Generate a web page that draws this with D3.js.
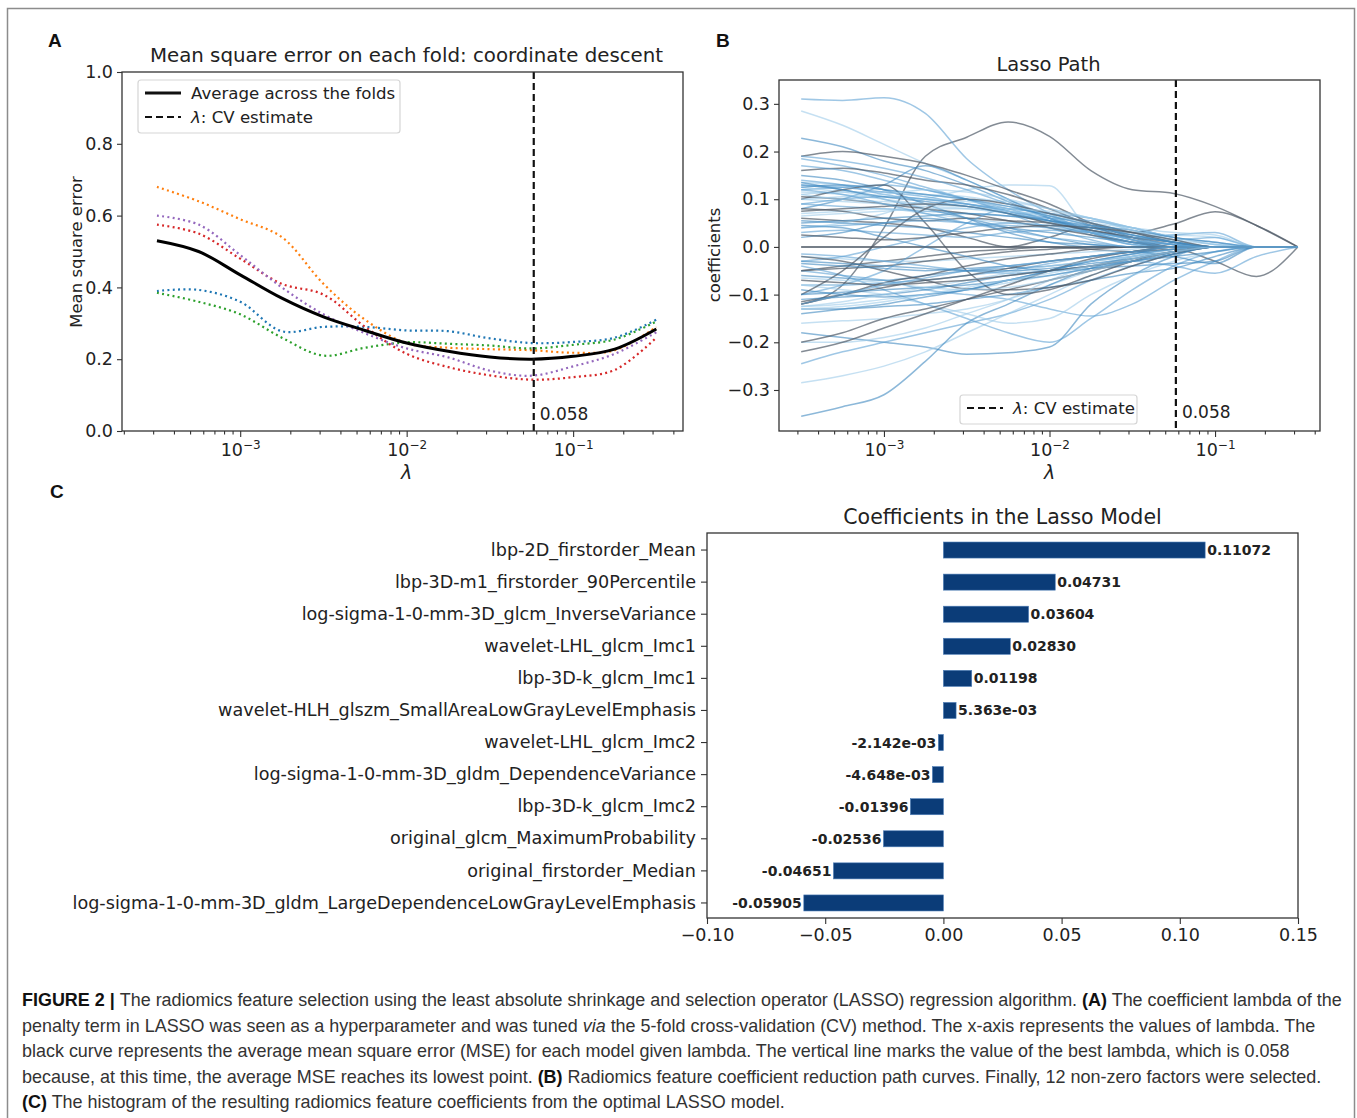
<!DOCTYPE html>
<html>
<head>
<meta charset="utf-8">
<script src="https://cdnjs.cloudflare.com/ajax/libs/d3/7.8.5/d3.min.js"></script>
<style>
body { margin: 0; background: #fff; }
svg { display: block; }
.mpl { font-family: "DejaVu Sans", sans-serif; fill: #222; }
</style>
</head>
<body>
<div id="main"></div>
<script>
// ---- data -----------------------------------------------------------
var logLambda = [-3.5, -3.25, -3.0, -2.75, -2.5, -2.25, -2.0, -1.75, -1.5, -1.25, -1.0, -0.75, -0.5];
var bestLambda = 0.058;

// MSE per CV fold (panel A)
var foldBlue   = [0.390, 0.393, 0.360, 0.278, 0.290, 0.290, 0.280, 0.278, 0.258, 0.245, 0.248, 0.260, 0.310];
var foldOrange = [0.680, 0.640, 0.590, 0.540, 0.410, 0.310, 0.245, 0.232, 0.228, 0.225, 0.218, 0.225, 0.290];
var foldGreen  = [0.385, 0.360, 0.325, 0.260, 0.210, 0.232, 0.247, 0.243, 0.238, 0.230, 0.240, 0.255, 0.305];
var foldRed    = [0.575, 0.550, 0.480, 0.410, 0.380, 0.290, 0.215, 0.178, 0.155, 0.143, 0.150, 0.170, 0.260];
var foldPurple = [0.600, 0.575, 0.490, 0.400, 0.325, 0.272, 0.230, 0.205, 0.168, 0.154, 0.180, 0.215, 0.275];
var avgMse     = [0.530, 0.500, 0.435, 0.370, 0.318, 0.280, 0.245, 0.222, 0.206, 0.200, 0.208, 0.228, 0.284];
var mseTicks = [0.0, 0.2, 0.4, 0.6, 0.8, 1.0];

// coefficient paths (panel B), one row per feature
var pathCoefs = [
  [-0.12, -0.08, 0.04, 0.19, 0.23, 0.262, 0.232, 0.16, 0.12, 0.112, 0.085, 0.045, 0],
  [0.31, 0.307, 0.313, 0.28, 0.185, 0.12, 0.07, 0.03, 0.005, 0, 0, 0, 0],
  [0.285, 0.255, 0.215, 0.175, 0.14, 0.1, 0.065, 0.03, 0.005, 0, 0, 0, 0],
  [0.228, 0.21, 0.18, 0.16, 0.13, 0.095, 0.06, 0.03, 0.01, 0, 0, 0, 0],
  [0.06, 0.055, 0.05, 0.04, 0.02, 0.0, 0.02, 0.045, 0.03, 0.048, 0.074, 0.045, 0],
  [0.185, 0.17, 0.15, 0.125, 0.1, 0.075, 0.05, 0.025, 0.005, 0, 0, 0, 0],
  [0.135, 0.13, 0.12, 0.11, 0.1, 0.095, 0.08, 0.06, 0.035, 0.01, 0, 0, 0],
  [0.13, 0.12, 0.1, 0.08, 0.06, 0.04, 0.02, 0.005, 0, 0, 0, 0, 0],
  [-0.05, -0.04, -0.03, -0.02, -0.01, -0.005, 0, -0.005, -0.01, -0.005, -0.03, -0.062, 0],
  [0.12, 0.125, 0.13, 0.12, 0.1, 0.07, 0.04, 0.015, 0, 0, 0, 0, 0],
  [0.04, 0.05, 0.07, 0.1, 0.12, 0.13, 0.128, 0.04, 0.03, 0.01, 0, 0, 0],
  [0.08, 0.1, 0.13, 0.17, 0.14, 0.1, 0.06, 0.03, 0.01, 0, 0, 0, 0],
  [0.19, 0.2, 0.19, 0.175, 0.15, 0.12, 0.09, 0.05, 0.02, 0, 0, 0, 0],
  [0.09, 0.085, 0.08, 0.075, 0.07, 0.065, 0.06, 0.055, 0.04, 0.02, 0.005, 0, 0],
  [0.07, 0.075, 0.08, 0.07, 0.06, 0.05, 0.045, 0.04, 0.03, 0.025, 0.02, 0, 0],
  [0.055, 0.05, 0.045, 0.04, 0.03, 0.02, 0.01, 0.005, 0, 0, 0, 0, 0],
  [0.16, 0.165, 0.155, 0.14, 0.13, 0.11, 0.08, 0.045, 0.015, 0, 0, 0, 0],
  [0.03, 0.035, 0.03, 0.025, 0.02, 0.03, 0.035, 0.03, 0.02, 0.015, 0.02, 0, 0],
  [-0.02, -0.025, -0.03, -0.03, -0.025, -0.02, -0.015, -0.01, -0.005, 0, 0, 0, 0],
  [-0.06, -0.065, -0.07, -0.06, -0.05, -0.045, -0.04, -0.03, -0.02, -0.01, 0, 0, 0],
  [0.105, 0.1, 0.09, 0.08, 0.07, 0.055, 0.04, 0.025, 0.01, 0, 0, 0, 0],
  [-0.08, -0.08, -0.075, -0.07, -0.06, -0.05, -0.035, -0.02, -0.01, 0, 0, 0, 0],
  [-0.125, -0.12, -0.11, -0.1, -0.09, -0.075, -0.06, -0.045, -0.03, -0.015, 0, 0, 0],
  [-0.13, -0.13, -0.125, -0.12, -0.11, -0.1, -0.085, -0.07, -0.055, -0.045, -0.02, 0, 0],
  [0.08, 0.075, 0.06, 0.055, 0.06, 0.055, 0.05, 0.035, 0.02, 0.005, 0, 0, 0],
  [-0.05, -0.06, -0.07, -0.09, -0.1, -0.11, -0.13, -0.145, -0.12, -0.07, -0.03, 0, 0],
  [-0.16, -0.155, -0.15, -0.14, -0.13, -0.11, -0.08, -0.05, -0.025, -0.01, 0, 0, 0],
  [-0.18, -0.19, -0.2, -0.21, -0.225, -0.222, -0.21, -0.12, -0.06, -0.02, 0, 0, 0],
  [0, 0, 0, 0, 0, 0, 0, 0, 0, 0, 0, 0, 0],
  [-0.245, -0.22, -0.2, -0.18, -0.16, -0.14, -0.11, -0.07, -0.04, -0.015, 0, 0, 0],
  [-0.285, -0.27, -0.25, -0.22, -0.18, -0.14, -0.1, -0.06, -0.03, -0.01, 0, 0, 0],
  [-0.355, -0.335, -0.31, -0.24, -0.16, -0.12, -0.08, -0.045, -0.02, -0.005, 0, 0, 0],
  [-0.05, -0.045, -0.04, -0.03, -0.02, -0.01, -0.005, 0, 0, 0, 0, 0, 0],
  [-0.1, -0.08, -0.05, 0.0, 0.05, 0.08, 0.07, 0.06, 0.04, 0.02, 0.01, 0, 0],
  [-0.08, -0.09, -0.1, -0.12, -0.14, -0.16, -0.15, -0.1, -0.06, -0.03, -0.01, 0, 0],
  [0.15, 0.14, 0.12, 0.09, 0.06, 0.03, 0.01, 0, 0, 0, 0, 0, 0],
  [-0.12, -0.1, -0.075, -0.06, -0.04, -0.025, -0.015, -0.005, 0, 0, 0, 0, 0],
  [-0.04, -0.06, -0.09, -0.12, -0.15, -0.18, -0.2, -0.15, -0.09, -0.04, -0.01, 0, 0],
  [0.11, 0.115, 0.115, 0.11, 0.105, 0.09, 0.07, 0.05, 0.03, 0.015, 0.005, 0, 0],
  [0.045, 0.04, 0.02, 0.0, -0.02, -0.04, -0.05, -0.045, -0.04, -0.035, -0.03, 0, 0],
  [-0.115, -0.1, -0.085, -0.07, -0.06, -0.045, -0.03, -0.02, -0.01, 0, 0, 0, 0],
  [-0.03, -0.02, 0.0, 0.02, 0.04, 0.05, 0.045, 0.03, 0.02, 0.025, 0.03, 0, 0],
  [0.1, 0.095, 0.09, 0.085, 0.08, 0.07, 0.05, 0.03, 0.015, 0.005, 0, 0, 0],
  [-0.11, -0.105, -0.1, -0.09, -0.075, -0.06, -0.05, -0.04, -0.03, -0.02, -0.01, 0, 0],
  [-0.02, -0.03, -0.05, -0.07, -0.088, -0.09, -0.085, -0.07, -0.04, -0.015, 0, 0, 0],
  [0.14, 0.13, 0.11, 0.1, 0.09, 0.08, 0.07, 0.05, 0.02, 0.005, 0, 0, 0],
  [-0.2, -0.2, -0.19, -0.17, -0.14, -0.11, -0.07, -0.04, -0.02, -0.005, 0, 0, 0],
  [0.02, 0.03, 0.05, 0.06, 0.05, 0.04, 0.03, 0.02, 0.01, 0.005, 0, 0, 0],
  [-0.2, -0.18, -0.15, -0.13, -0.11, -0.09, -0.07, -0.05, -0.03, -0.01, 0, 0, 0],
  [-0.015, -0.02, -0.03, -0.04, -0.05, -0.055, -0.05, -0.04, -0.03, -0.04, -0.055, -0.02, 0],
  [0.065, 0.07, 0.075, 0.08, 0.08, 0.075, 0.065, 0.05, 0.04, 0.03, 0.025, 0, 0],
  [-0.09, -0.1, -0.105, -0.1, -0.09, -0.07, -0.05, -0.03, -0.015, -0.005, 0, 0, 0],
  [-0.22, -0.2, -0.17, -0.14, -0.11, -0.08, -0.05, -0.025, -0.01, 0, 0, 0, 0],
  [0.17, 0.16, 0.14, 0.12, 0.1, 0.08, 0.055, 0.03, 0.01, 0, 0, 0, 0],
  [0.125, 0.115, 0.105, 0.1, 0.095, 0.085, 0.07, 0.05, 0.03, 0.01, 0, 0, 0],
  [-0.14, -0.13, -0.12, -0.105, -0.09, -0.07, -0.05, -0.03, -0.015, 0, 0, 0, 0],
  [-0.1, -0.05, 0.02, 0.08, 0.1, 0.09, 0.07, 0.05, 0.03, 0.01, 0, 0, 0],
  [0.19, 0.18, 0.165, 0.145, 0.12, 0.09, 0.06, 0.035, 0.015, 0, 0, 0, 0],
  [0.115, 0.11, 0.1, 0.09, 0.085, 0.08, 0.075, 0.06, 0.04, 0.02, 0.005, 0, 0],
  [-0.035, -0.04, -0.045, -0.05, -0.045, -0.04, -0.03, -0.02, -0.01, -0.02, -0.035, 0, 0],
  [0.1, 0.12, 0.13, 0.05, -0.05, -0.1, -0.09, -0.06, -0.03, -0.01, 0, 0, 0],
  [0.09, 0.1, 0.105, 0.1, 0.09, 0.075, 0.055, 0.035, 0.015, 0.005, 0, 0, 0],
  [-0.065, -0.07, -0.075, -0.085, -0.09, -0.085, -0.07, -0.05, -0.03, -0.01, 0, 0, 0],
  [0.05, 0.055, 0.06, 0.065, 0.07, 0.065, 0.055, 0.045, 0.035, 0.02, 0.01, 0, 0],
  [0, 0, 0, 0, 0, 0, 0, 0, 0, 0, 0, 0, 0],
  [0.13, 0.125, 0.115, 0.105, 0.09, 0.075, 0.06, 0.04, 0.02, 0.005, 0, 0, 0],
  [0.11, 0.1, 0.095, 0.09, 0.085, 0.075, 0.065, 0.045, 0.025, 0.01, 0, 0, 0],
  [-0.1, -0.095, -0.09, -0.085, -0.08, -0.07, -0.06, -0.045, -0.03, -0.015, 0, 0, 0],
  [0.075, 0.08, 0.085, 0.09, 0.085, 0.07, 0.05, 0.035, 0.02, 0.01, 0, 0, 0],
  [0.04, 0.045, 0.05, 0.055, 0.05, 0.045, 0.04, 0.03, 0.02, 0.01, 0, 0, 0],
  [-0.125, -0.115, -0.1, -0.085, -0.07, -0.055, -0.04, -0.03, -0.02, -0.01, 0, 0, 0],
  [0.125, 0.13, 0.12, 0.11, 0.1, 0.085, 0.065, 0.045, 0.025, 0.01, 0, 0, 0],
  [-0.07, -0.075, -0.08, -0.075, -0.07, -0.06, -0.05, -0.04, -0.025, -0.01, 0, 0, 0],
  [-0.12, -0.1, -0.08, -0.065, -0.05, -0.04, -0.03, -0.02, -0.01, 0, 0, 0, 0],
  [0.1, 0.105, 0.11, 0.12, 0.115, 0.1, 0.08, 0.06, 0.035, 0.015, 0, 0, 0],
  [-0.03, -0.035, -0.04, -0.045, -0.05, -0.05, -0.045, -0.035, -0.025, -0.01, 0, 0, 0],
  [0.025, 0.02, 0.015, 0.02, 0.03, 0.04, 0.045, 0.04, 0.03, 0.015, 0, 0, 0],
  [0.12, 0.11, 0.09, 0.07, 0.05, 0.035, 0.02, 0.01, 0, 0, 0, 0, 0],
  [-0.13, -0.125, -0.115, -0.1, -0.085, -0.07, -0.055, -0.04, -0.025, -0.01, 0, 0, 0],
  [0.135, 0.12, 0.105, 0.095, 0.085, 0.07, 0.055, 0.04, 0.025, 0.01, 0, 0, 0]
];
var coefTicks = [-0.3, -0.2, -0.1, 0.0, 0.1, 0.2, 0.3];

// selected features (panel C)
var features = [
  "lbp-2D_firstorder_Mean",
  "lbp-3D-m1_firstorder_90Percentile",
  "log-sigma-1-0-mm-3D_glcm_InverseVariance",
  "wavelet-LHL_glcm_Imc1",
  "lbp-3D-k_glcm_Imc1",
  "wavelet-HLH_glszm_SmallAreaLowGrayLevelEmphasis",
  "wavelet-LHL_glcm_Imc2",
  "log-sigma-1-0-mm-3D_gldm_DependenceVariance",
  "lbp-3D-k_glcm_Imc2",
  "original_glcm_MaximumProbability",
  "original_firstorder_Median",
  "log-sigma-1-0-mm-3D_gldm_LargeDependenceLowGrayLevelEmphasis"
];
var featureCoefs = [0.11072, 0.04731, 0.03604, 0.02830, 0.01198, 5.363e-03,
                    -2.142e-03, -4.648e-03, -0.01396, -0.02536, -0.04651, -0.05905];
var barTicks = [-0.10, -0.05, 0.00, 0.05, 0.10, 0.15];

var captionLines = [
  [["FIGURE 2 | ", "b"], ["The radiomics feature selection using the least absolute shrinkage and selection operator (LASSO) regression algorithm. ", ""], ["(A)", "b"], [" The coefficient lambda of the", ""]],
  [["penalty term in LASSO was seen as a hyperparameter and was tuned ", ""], ["via", "i"], [" the 5-fold cross-validation (CV) method. The x-axis represents the values of lambda. The", ""]],
  [["black curve represents the average mean square error (MSE) for each model given lambda. The vertical line marks the value of the best lambda, which is 0.058", ""]],
  [["because, at this time, the average MSE reaches its lowest point. ", ""], ["(B)", "b"], [" Radiomics feature coefficient reduction path curves. Finally, 12 non-zero factors were selected.", ""]],
  [["(C)", "b"], [" The histogram of the resulting radiomics feature coefficients from the optimal LASSO model.", ""]]
];

// ---- drawing --------------------------------------------------------
var W = 1357, H = 1118;
var svg = d3.select("#main").append("svg").attr("width", W).attr("height", H);

svg.append("rect")
    .attr("x", 7.5).attr("y", 8.5).attr("width", 1347).attr("height", 1140)
    .attr("fill", "none").attr("stroke", "#8c8c8c").attr("stroke-width", 1.5);

var tickFont = 17.5;

function isPow10(d) {
    var l = Math.log10(d);
    return Math.abs(l - Math.round(l)) < 1e-9;
}

function styleAxis(ax) {
    ax.select(".domain").remove();
    ax.attr("font-family", null).attr("font-size", null);
    ax.selectAll(".tick line").attr("stroke", "#333").attr("stroke-width", 1.1);
    ax.selectAll(".tick text").attr("class", "mpl").attr("font-size", tickFont);
}

function logAxis(g, x, y0) {
    var all = x.ticks();
    var major = all.filter(isPow10);
    var minor = all.filter(function(d) { return !isPow10(d); });
    var mi = g.append("g").attr("transform", "translate(0," + y0 + ")")
        .call(d3.axisBottom(x).tickValues(minor).tickSize(3.5).tickFormat(""));
    styleAxis(mi);
    var ma = g.append("g").attr("transform", "translate(0," + y0 + ")")
        .call(d3.axisBottom(x).tickValues(major).tickSize(6).tickFormat(""));
    styleAxis(ma);
    var t = ma.selectAll(".tick").append("text")
        .attr("class", "mpl").attr("y", 25).attr("text-anchor", "middle")
        .attr("font-size", tickFont);
    t.append("tspan").text("10");
    t.append("tspan").attr("dy", -7).attr("font-size", 12)
        .text(function(d) { return "\u2212" + Math.round(-Math.log10(d)); });
}

function box(g, x0, y0, x1, y1) {
    g.append("rect").attr("x", x0).attr("y", y0)
        .attr("width", x1 - x0).attr("height", y1 - y0)
        .attr("fill", "none").attr("stroke", "#333").attr("stroke-width", 1.3);
}

function lambdaLabel(g, x, y) {
    g.append("text").attr("class", "mpl").attr("x", x).attr("y", y)
        .attr("text-anchor", "middle").attr("font-size", 19)
        .attr("font-style", "italic").text("\u03bb");
}

function panelLetter(x, y, s) {
    svg.append("text").attr("x", x).attr("y", y)
        .attr("font-family", "Liberation Sans, Arial, sans-serif")
        .attr("font-weight", "bold").attr("font-size", 19).attr("fill", "#111").text(s);
}

function legendItem(g, x, y, dashed, parts) {
    g.append("line").attr("x1", x).attr("x2", x + 36).attr("y1", y).attr("y2", y)
        .attr("stroke", "#111").attr("stroke-width", dashed ? 2.2 : 3)
        .attr("stroke-dasharray", dashed ? "7,4" : null);
    var t = g.append("text").attr("class", "mpl").attr("x", x + 46).attr("y", y + 6)
        .attr("font-size", 16.6);
    parts.forEach(function(p) {
        t.append("tspan").attr("font-style", p[1] ? "italic" : null).text(p[0]);
    });
}

// --- panel A ---
var A = {l: 122, r: 683, t: 72, b: 431};
var gA = svg.append("g");
var xA = d3.scaleLog().domain([Math.pow(10, -3.71), Math.pow(10, -0.34)]).range([A.l, A.r]);
var yA = d3.scaleLinear().domain([0, 1]).range([A.b, A.t]);

var lineA = d3.line()
    .x(function(d, i) { return xA(Math.pow(10, logLambda[i])); })
    .y(function(d) { return yA(d); })
    .curve(d3.curveCatmullRom.alpha(0.5));

var folds = [foldBlue, foldOrange, foldGreen, foldRed, foldPurple];
var tab10 = ["#1f77b4", "#ff7f0e", "#2ca02c", "#d62728", "#9467bd"];
gA.selectAll(".fold").data(folds).enter().append("path")
    .attr("class", "fold").attr("d", lineA)
    .attr("fill", "none").attr("stroke", function(d, i) { return tab10[i]; })
    .attr("stroke-width", 2.2).attr("stroke-dasharray", "2,3.3");
gA.append("path").datum(avgMse).attr("d", lineA)
    .attr("fill", "none").attr("stroke", "#000").attr("stroke-width", 3);

gA.append("line").attr("x1", xA(bestLambda)).attr("x2", xA(bestLambda))
    .attr("y1", A.t).attr("y2", A.b)
    .attr("stroke", "#111").attr("stroke-width", 2.2).attr("stroke-dasharray", "7,4");
gA.append("text").attr("class", "mpl").attr("x", xA(bestLambda) + 6).attr("y", 420)
    .attr("font-size", 17).text(bestLambda.toFixed(3));

box(gA, A.l, A.t, A.r, A.b);
var ayA = gA.append("g").attr("transform", "translate(" + A.l + ",0)")
    .call(d3.axisLeft(yA).tickValues(mseTicks).tickSize(5).tickPadding(4).tickFormat(d3.format(".1f")));
styleAxis(ayA);
logAxis(gA, xA, A.b);
lambdaLabel(gA, (A.l + A.r) / 2 + 4, 479);
gA.append("text").attr("class", "mpl").attr("transform", "translate(82,252) rotate(-90)")
    .attr("text-anchor", "middle").attr("font-size", 16.5).text("Mean square error");
gA.append("text").attr("class", "mpl").attr("x", (A.l + A.r) / 2 + 4).attr("y", 62)
    .attr("text-anchor", "middle").attr("font-size", 19.8)
    .text("Mean square error on each fold: coordinate descent");

var legA = gA.append("g");
legA.append("rect").attr("x", 138).attr("y", 80).attr("width", 262).attr("height", 53)
    .attr("rx", 3).attr("fill", "#fff").attr("fill-opacity", 0.8)
    .attr("stroke", "#d5d5d5").attr("stroke-width", 1.2);
legendItem(legA, 145, 93, false, [["Average across the folds", false]]);
legendItem(legA, 145, 117, true, [["\u03bb", true], [": CV estimate", false]]);

// --- panel B ---
var B = {l: 779, r: 1320, t: 80, b: 431};
var gB = svg.append("g");
var xB = d3.scaleLog().domain([Math.pow(10, -3.634), Math.pow(10, -0.366)]).range([B.l, B.r]);
var yB = d3.scaleLinear().domain([-0.386, 0.35]).range([B.b, B.t]);
var lineB = d3.line()
    .x(function(d, i) { return xB(Math.pow(10, logLambda[i])); })
    .y(function(d) { return yB(d); })
    .curve(d3.curveMonotoneX);
var pathColors = ["#4e5a66", "#5fa2d3", "#9fcbea", "#3f88c0"];
gB.selectAll(".coef").data(pathCoefs).enter().append("path")
    .attr("class", "coef").attr("d", lineB).attr("fill", "none")
    .attr("stroke", function(d, i) { return pathColors[i % 4]; })
    .attr("stroke-opacity", function(d, i) { return i % 4 === 0 ? 0.7 : 0.6; })
    .attr("stroke-width", 1.5);

gB.append("line").attr("x1", xB(bestLambda)).attr("x2", xB(bestLambda))
    .attr("y1", B.t).attr("y2", B.b)
    .attr("stroke", "#111").attr("stroke-width", 2.2).attr("stroke-dasharray", "7,4");
gB.append("text").attr("class", "mpl").attr("x", xB(bestLambda) + 6).attr("y", 418)
    .attr("font-size", 17).text(bestLambda.toFixed(3));

box(gB, B.l, B.t, B.r, B.b);
var ayB = gB.append("g").attr("transform", "translate(" + B.l + ",0)")
    .call(d3.axisLeft(yB).tickValues(coefTicks).tickSize(5).tickPadding(4).tickFormat(d3.format(".1f")));
styleAxis(ayB);
logAxis(gB, xB, B.b);
lambdaLabel(gB, (B.l + B.r) / 2, 479);
gB.append("text").attr("class", "mpl").attr("transform", "translate(720,255) rotate(-90)")
    .attr("text-anchor", "middle").attr("font-size", 16.5).text("coefficients");
gB.append("text").attr("class", "mpl").attr("x", (B.l + B.r) / 2 - 1).attr("y", 71)
    .attr("text-anchor", "middle").attr("font-size", 19.5).text("Lasso Path");

var legB = gB.append("g");
legB.append("rect").attr("x", 960).attr("y", 395).attr("width", 177).attr("height", 29)
    .attr("rx", 3).attr("fill", "#fff").attr("fill-opacity", 0.8)
    .attr("stroke", "#d5d5d5").attr("stroke-width", 1.2);
legendItem(legB, 967, 408, true, [["\u03bb", true], [": CV estimate", false]]);

// --- panel C ---
var C = {l: 707, r: 1298, t: 533, b: 918};
var gC = svg.append("g");
var xC = d3.scaleLinear().domain([-0.10, 0.15]).range([C.l, C.r]);
var yC = d3.scaleBand().domain(features).range([C.t, C.b]).paddingInner(0.5).paddingOuter(0.25);

gC.selectAll(".bar").data(featureCoefs).enter().append("rect")
    .attr("class", "bar")
    .attr("x", function(d) { return xC(Math.min(0, d)); })
    .attr("y", function(d, i) { return yC(features[i]) + 1; })
    .attr("width", function(d) { return Math.abs(xC(d) - xC(0)); })
    .attr("height", yC.bandwidth())
    .attr("fill", "#0b3c78").attr("stroke", "#4f7fb8").attr("stroke-width", 0.6);

function coefLabel(d) {
    if (Math.abs(d) < 0.01) {
        var s = d.toExponential(3);
        return s.replace(/e([+-])(\d)$/, "e$10$2");
    }
    return d.toFixed(5);
}
gC.selectAll(".val").data(featureCoefs).enter().append("text")
    .attr("class", "mpl val")
    .attr("x", function(d) { return xC(d) + (d >= 0 ? 2 : -2); })
    .attr("y", function(d, i) { return yC(features[i]) + yC.bandwidth() / 2 + 6; })
    .attr("text-anchor", function(d) { return d >= 0 ? "start" : "end"; })
    .attr("font-size", 14).attr("font-weight", "bold").attr("fill", "#111")
    .text(coefLabel);

box(gC, C.l, C.t, C.r, C.b);
var ayC = gC.append("g").attr("transform", "translate(" + C.l + ",1)")
    .call(d3.axisLeft(yC).tickSize(6).tickPadding(5));
styleAxis(ayC);
ayC.selectAll(".tick text").attr("font-size", 17.6);
var axC = gC.append("g").attr("transform", "translate(0," + C.b + ")")
    .call(d3.axisBottom(xC).tickValues(barTicks).tickSize(6).tickPadding(5).tickFormat(d3.format(".2f")));
styleAxis(axC);
gC.append("text").attr("class", "mpl").attr("x", (C.l + C.r) / 2).attr("y", 524)
    .attr("text-anchor", "middle").attr("font-size", 20.5).text("Coefficients in the Lasso Model");

panelLetter(48, 47, "A");
panelLetter(716, 47, "B");
panelLetter(50, 498, "C");

// --- caption: each line squeezed horizontally to the reference width ---
var capWidths = [1320, 1294, 1268, 1300, 763];
var cap = svg.append("g");
captionLines.forEach(function(line, i) {
    var t = cap.append("text")
        .attr("x", 0).attr("y", 0)
        .attr("font-family", "'Liberation Sans Narrow', 'Liberation Sans', Arial, sans-serif")
        .attr("font-size", 18).attr("fill", "#333");
    line.forEach(function(seg) {
        t.append("tspan")
            .attr("font-weight", seg[1] === "b" ? "bold" : null)
            .attr("font-style", seg[1] === "i" ? "italic" : null)
            .attr("fill", seg[1] === "b" ? "#111" : null)
            .text(seg[0]);
    });
    var len = t.node().getComputedTextLength();
    var sx = Math.min(1, capWidths[i] / len);
    t.attr("transform", "translate(22," + (1006 + i * 25.6) + ") scale(" + sx + ",1)");
});
</script>
</body>
</html>
